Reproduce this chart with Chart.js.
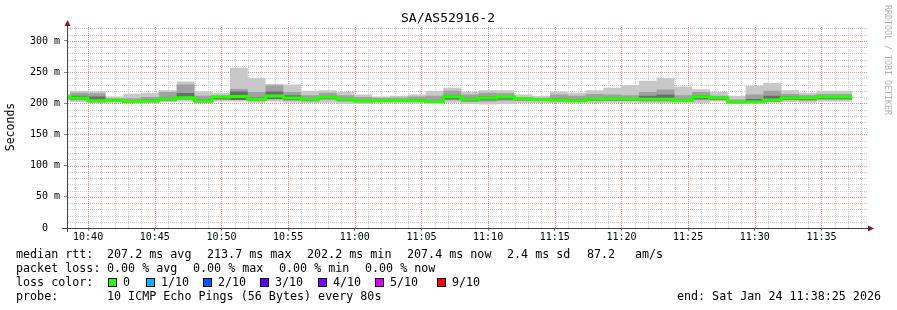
<!DOCTYPE html>
<html>
<head>
<meta charset="utf-8">
<script src="https://cdn.jsdelivr.net/npm/chart.js@4/dist/chart.umd.min.js"></script>
<style>
html, body { margin: 0; padding: 0; background: #fff; overflow: hidden; }
</style>
</head>
<body>
<canvas id="grafico" width="897" height="310"></canvas>
<script>
// time axis: plot covers 10:38:25 .. 11:38:25, one sample every 80 s
const inicioGrafico = 10 * 3600 + 38 * 60 + 25;
const duracao = 3600;
const passo = 80;
const primeiroPasso = 13.5; // first full sample starts here (seconds after plot start)
const numPassos = 44;

// smoke + median, ms (index 0 is the partial sample at the left edge)
const mediana = [207.5, 210, 208.5, 204, 205, 203, 203.7, 207, 209, 203.7, 210, 211, 206.4, 211.8, 208.5,
    206.4, 209.6, 206.4, 203.7, 204.3, 204.5, 204.3, 203, 210.7, 206.7, 208.5, 210, 207.5, 206.1, 205.9,
    204.3, 206.4, 207.2, 207, 206.4, 206.4, 204.5, 210.7, 208.5, 201.6, 202.1, 205.3, 208.5, 208.5, 210];
const maximo = [209, 215, 220, 219, 211, 215.5, 217, 221, 235, 219, 217, 257, 241, 231, 230,
    220, 221, 218, 214, 211, 212, 214, 220, 225, 218, 221, 221, 214, 212, 219,
    217, 221, 225, 229, 236, 241, 227, 222.5, 218, 212, 228, 233, 221, 217, 220];
const minimo = [203, 204, 202, 200, 201, 199.5, 199.5, 202, 203, 200, 203, 203, 201, 203, 201,
    200, 201, 199, 199, 200, 200, 199.5, 199, 201, 199, 198, 199, 200, 200.5, 200.5,
    200, 200.5, 201, 201, 200, 200, 200, 200, 203, 199.5, 199.5, 201, 202, 201, 203];
const quartilSup = [208, 211, 217, 216, 208, 208, 210, 218, 230, 212, 213, 223, 218, 229, 218,
    213, 217, 213, 210, 209, 209, 211, 212, 220, 214, 217, 216, 210, 209, 214,
    212, 215, 214, 213, 218, 222, 213, 218, 212, 206, 214, 220, 215, 213, 215];
const quartilInf = [205.5, 207.5, 205, 201.5, 203, 201, 201.5, 204.5, 206, 201.5, 206, 206, 203.5, 207, 205,
    203, 206, 203, 201.5, 202, 202, 202, 201, 205, 202.5, 203, 204, 204, 203.5, 203.5,
    202, 203.5, 204, 204, 203, 203, 202.5, 205, 205, 200.5, 200.5, 203, 205.5, 204.5, 206];
const nucleoSup = [208.5, 210.5, 212, 211, 206.5, 205, 206, 209, 216.5, 206, 211, 219, 209.5, 219, 213,
    208, 211, 208, 205.5, 205.5, 206, 206, 204.5, 213, 209, 211, 211.5, 208.5, 207.5, 208,
    206, 208, 209, 208.5, 212, 214, 206.5, 213, 210, 203.5, 207, 212, 211, 210, 211.5];
const nucleoInf = [205.5, 207.5, 206, 202, 203.5, 201, 202, 204.5, 206.5, 202, 206, 205.5, 204, 206.5, 205,
    204, 206.5, 204, 202, 202.5, 202.5, 202.5, 201.5, 206, 203.5, 205, 206, 205, 204, 203.5,
    202.5, 204, 204.5, 204.5, 204, 204, 202.5, 206.5, 205.5, 200.5, 200.5, 203, 205.5, 205, 206.5];

const tituloGrafico = 'SA/AS52916-2';
const linhasLegenda = [
    ['median rtt:', [['207.2 ms avg', 107], ['213.7 ms max', 207], ['202.2 ms min', 307], ['207.4 ms now', 407], ['2.4 ms sd', 507], ['87.2', 587], ['am/s', 635]]],
    ['packet loss:', [['0.00 % avg', 107], ['0.00 % max', 193], ['0.00 % min', 279], ['0.00 % now', 365]]],
    ['loss color:', []],
    ['probe:', [['10 ICMP Echo Pings (56 Bytes) every 80s', 107]]]
];
const perdaRotulos = ['0', '1/10', '2/10', '3/10', '4/10', '5/10', '9/10'];
const perdaCores = ['#26ff00', '#00b8ff', '#0059ff', '#5e00ff', '#7e00ff', '#dd00ff', '#ff0000'];
const perdaPosicoes = [108, 146, 203, 260, 318, 375, 437];
const textoFim = 'end: Sat Jan 24 11:38:25 2026';

const inicios = [0];
for (let k = 0; k < numPassos; k++) inicios.push(primeiroPasso + k * passo);
const fimDados = primeiroPasso + numPassos * passo;

function pontos(valores) {
    const p = valores.map((v, i) => ({ x: inicios[i], y: v }));
    p.push({ x: fimDados, y: valores[valores.length - 1] });
    return p;
}

function horaDe(t) {
    const s = inicioGrafico + t;
    const h = Math.floor(s / 3600);
    const m = Math.round((s % 3600) / 60);
    return String(h).padStart(2, '0') + ':' + String(m).padStart(2, '0');
}
function minutoMaior(t) {
    const m = Math.round((inicioGrafico + t) / 60);
    return m % 5 === 0;
}

const MONO = '"DejaVu Sans Mono", monospace';
const transparente = 'rgba(0,0,0,0)';
const corMaior = '#ff8080';
const corMenor = '#c8c8c8';

// dotted rrdtool style grid, drawn under the data from the chart's own ticks
const gradePontilhada = {
    id: 'gradePontilhada',
    beforeDatasetsDraw(chart) {
        const ctx = chart.ctx;
        const a = chart.chartArea;
        const sx = chart.scales.x, sy = chart.scales.y;
        ctx.save();
        const linhasV = sx.ticks.map(t => ({ p: Math.round(sx.getPixelForValue(t.value)), maior: minutoMaior(t.value) }));
        const linhasH = sy.ticks.map(t => ({ p: Math.round(sy.getPixelForValue(t.value)), maior: t.value % 50 === 0 }));
        [false, true].forEach(maior => {
            ctx.fillStyle = maior ? corMaior : corMenor;
            linhasV.filter(l => l.maior === maior).forEach(l => {
                for (let y = Math.ceil(a.top); y < a.bottom; y += 2) ctx.fillRect(l.p, y, 1, 1);
            });
            linhasH.filter(l => l.maior === maior && l.p < a.bottom - 1).forEach(l => {
                for (let x = Math.ceil(a.left) + 1; x < a.right; x += 2) ctx.fillRect(x, l.p, 1, 1);
            });
        });
        ctx.restore();
    }
};

const desenhoExtra = {
    id: 'desenhoExtra',
    beforeDraw(chart) {
        const ctx = chart.ctx;
        ctx.save();
        ctx.fillStyle = '#fff';
        ctx.fillRect(0, 0, chart.width, chart.height);
        ctx.restore();
    },
    afterDraw(chart) {
        const ctx = chart.ctx;
        const a = chart.chartArea;
        ctx.save();

        // axes
        ctx.strokeStyle = '#444';
        ctx.lineWidth = 1;
        ctx.beginPath();
        ctx.moveTo(a.left + 0.5, a.bottom + 4);
        ctx.lineTo(a.left + 0.5, a.top - 3);
        ctx.moveTo(a.left - 5, a.bottom + 0.5);
        ctx.lineTo(a.right + 2, a.bottom + 0.5);
        ctx.stroke();
        ctx.fillStyle = '#8b1a1a';
        ctx.beginPath();
        ctx.moveTo(a.left + 0.5, a.top - 7);
        ctx.lineTo(a.left - 2.5, a.top - 1);
        ctx.lineTo(a.left + 3.5, a.top - 1);
        ctx.closePath();
        ctx.fill();
        ctx.beginPath();
        ctx.moveTo(a.right + 7, a.bottom + 0.5);
        ctx.lineTo(a.right + 1, a.bottom - 2.5);
        ctx.lineTo(a.right + 1, a.bottom + 3.5);
        ctx.closePath();
        ctx.fill();

        // title
        ctx.fillStyle = '#000';
        ctx.font = '13px ' + MONO;
        ctx.textAlign = 'center';
        ctx.textBaseline = 'middle';
        ctx.fillText(tituloGrafico, 448, 19);

        // y axis title
        ctx.save();
        ctx.translate(11, 127);
        ctx.rotate(-Math.PI / 2);
        ctx.font = '11.5px ' + MONO;
        ctx.fillText('Seconds', 0, 0);
        ctx.restore();

        // watermark
        ctx.save();
        ctx.translate(887, 5);
        ctx.rotate(Math.PI / 2);
        ctx.textAlign = 'left';
        ctx.fillStyle = '#b0b0b0';
        ctx.font = '8.3px ' + MONO;
        ctx.fillText('RRDTOOL / TOBI OETIKER', 0, 0);
        ctx.restore();

        // legend lines
        ctx.font = '11.7px ' + MONO;
        ctx.textAlign = 'left';
        ctx.fillStyle = '#000';
        const ys = [254.5, 268.5, 282.5, 296.5];
        linhasLegenda.forEach((linha, i) => {
            ctx.fillText(linha[0], 16, ys[i]);
            linha[1].forEach(([txt, x]) => ctx.fillText(txt, x, ys[i]));
        });
        perdaRotulos.forEach((r, i) => {
            const x = perdaPosicoes[i];
            ctx.fillStyle = perdaCores[i];
            ctx.fillRect(x, 278, 9, 9);
            ctx.strokeStyle = '#000';
            ctx.strokeRect(x + 0.5, 278.5, 8, 8);
            ctx.fillStyle = '#000';
            ctx.fillText(r, x + 15, ys[2]);
        });
        ctx.textAlign = 'right';
        ctx.fillText(textoFim, 881, ys[3]);

        ctx.restore();
    }
};

const linhaBase = {
    stepped: 'after',
    pointRadius: 0,
    borderWidth: 1,
    borderColor: transparente
};

new Chart(document.getElementById('grafico'), {
    type: 'line',
    data: {
        datasets: [
            { ...linhaBase, label: 'max', data: pontos(maximo), fill: 1, backgroundColor: '#c8c8c8', order: 4 },
            { ...linhaBase, label: 'min', data: pontos(minimo), fill: false, order: 4 },
            { ...linhaBase, label: 'q sup', data: pontos(quartilSup), fill: 3, backgroundColor: '#a0a0a0', order: 3 },
            { ...linhaBase, label: 'q inf', data: pontos(quartilInf), fill: false, order: 3 },
            { ...linhaBase, label: 'core sup', data: pontos(nucleoSup), fill: 5, backgroundColor: '#6c6c6c', order: 2 },
            { ...linhaBase, label: 'core inf', data: pontos(nucleoInf), fill: false, order: 2 },
            { ...linhaBase, label: 'median', data: pontos(mediana), fill: false, borderColor: '#22ff00', borderWidth: 3, borderCapStyle: 'butt', order: 1 }
        ]
    },
    options: {
        responsive: false,
        animation: false,
        devicePixelRatio: 1,
        layout: { padding: { top: 27, right: 30, left: 0, bottom: 0 } },
        plugins: { legend: { display: false }, tooltip: { enabled: false }, title: { display: false } },
        scales: {
            x: {
                type: 'linear',
                min: 0,
                max: duracao,
                afterBuildTicks: s => {
                    const t = [];
                    for (let v = 35; v < duracao; v += 60) t.push({ value: v });
                    s.ticks = t;
                },
                afterFit: s => { s.height = 82; },
                ticks: {
                    autoSkip: false,
                    maxRotation: 0,
                    padding: 0,
                    color: '#000',
                    font: { family: MONO, size: 10 },
                    callback: v => minutoMaior(v) ? horaDe(v) : ''
                },
                grid: {
                    drawOnChartArea: false,
                    tickColor: c => c.tick && minutoMaior(c.tick.value) ? '#888' : transparente,
                    tickLength: 3
                },
                border: { display: false }
            },
            y: {
                min: 0,
                max: 322.4,
                afterBuildTicks: s => {
                    const t = [];
                    for (let v = 0; v <= 320; v += 10) t.push({ value: v });
                    s.ticks = t;
                },
                afterFit: s => { s.width = 67; },
                ticks: {
                    autoSkip: false,
                    padding: 4,
                    color: '#000',
                    font: { family: MONO, size: 10 },
                    callback: v => v % 50 !== 0 ? '' : (v === 0 ? '0  ' : v + ' m')
                },
                grid: {
                    drawOnChartArea: false,
                    tickColor: c => c.tick && c.tick.value % 50 === 0 ? '#888' : transparente,
                    tickLength: 3
                },
                border: { display: false }
            }
        }
    },
    plugins: [gradePontilhada, desenhoExtra]
});
</script>
</body>
</html>
